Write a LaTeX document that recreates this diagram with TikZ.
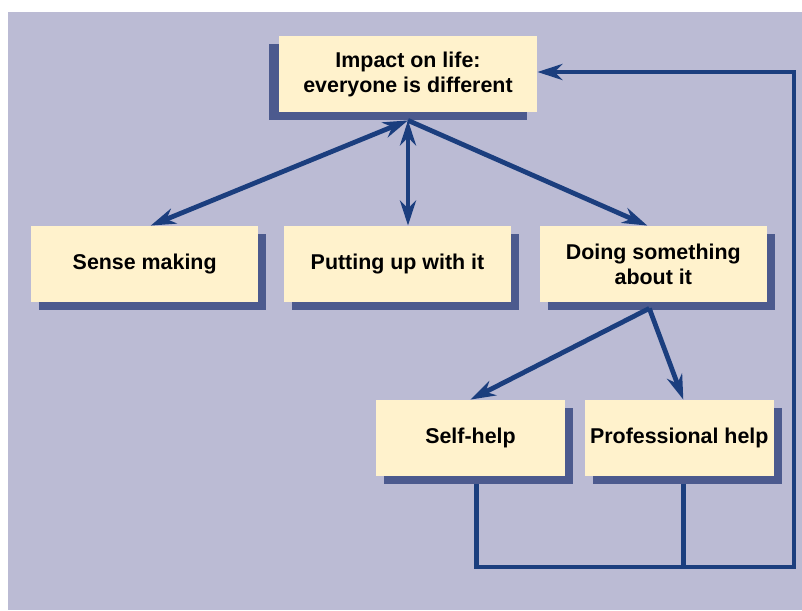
\documentclass[tikz,border=0pt]{standalone}
\usepackage{fontspec}
\setmainfont{Liberation Sans}
\usetikzlibrary{arrows.meta,positioning,shadows}

\definecolor{backlilac}{HTML}{BBBBD4}
\definecolor{boxcream}{HTML}{FFF2CC}
\definecolor{shadowblue}{HTML}{4C5A8E}
\definecolor{linkblue}{HTML}{1B3E7E}

\begin{document}
\begin{tikzpicture}[x=0.5pt,y=0.5pt,
            stagebox/.style={fill=boxcream,minimum height=38pt,inner sep=0pt,align=center,font=\fontsize{10.7}{12.5}\selectfont\bfseries},
            stage/.style={stagebox,minimum width=113.5pt,drop shadow={shadow xshift=4pt,shadow yshift=-4pt,fill=shadowblue,opacity=1}},
            help/.style={stagebox,minimum width=94.5pt,drop shadow={shadow xshift=4pt,shadow yshift=-4pt,fill=shadowblue,opacity=1}},
            impact/.style={stagebox,minimum width=129pt,drop shadow={shadow xshift=-5pt,shadow yshift=-4pt,fill=shadowblue,opacity=1}},
            link/.style={draw=linkblue,line width=2.4pt,>={Stealth[length=12.5pt,width=8pt,inset=4pt]}}
          ]
          \useasboundingbox (0,0) rectangle (802,610);
          \fill[backlilac] (8,0) rectangle (802,598);

          \node[impact] (top) at (408,536) {Impact on life:\\everyone is different};

          %ways of coping
          \node[stage] (putting) at (397.5,346) {Putting up with it};
          \node[stage,left=12.5pt of putting] (sense) {Sense making};
          \node[stage,right=14pt of putting] (doing) {Doing something\\about it};

          %kinds of help
          \node[help] (self) at (470.5,172) {Self-help};
          \node[help,right=9.5pt of self] (prof) {Professional help};

          \coordinate (hub) at ([yshift=-4pt]top.south);
          \coordinate (fork) at ([xshift=-2pt,yshift=-3pt]doing.south);
          \coordinate (selffoot) at ([xshift=3pt,yshift=-4pt]self.south);
          \coordinate (proffoot) at ([xshift=2pt,yshift=-4pt]prof.south);
          \coordinate (corner) at (794,43);

          \draw[link,<->] (hub) -- ([xshift=3pt]sense.north);
          \draw[link,<->] (hub) -- (hub |- putting.north);
          \draw[link,->] (hub) -- ([xshift=-3pt]doing.north);
          \draw[link,->] (fork) -- (self.north);
          \draw[link,->] (fork) -- ([xshift=2pt]prof.north);

          %feedback loop
          \draw[link,->] (selffoot) |- (corner) |- ([yshift=1pt]top.east);
          \draw[link] (proffoot) -- (proffoot |- corner);
      \end{tikzpicture}
\end{document}
